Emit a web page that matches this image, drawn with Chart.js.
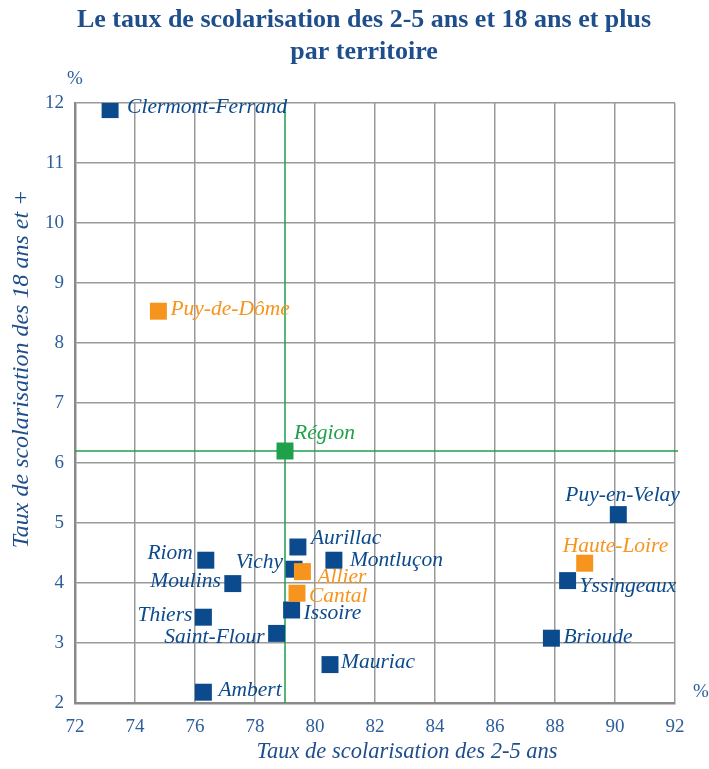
<!DOCTYPE html>
<html>
<head>
<meta charset="utf-8">
<script src="https://cdn.jsdelivr.net/npm/chart.js@4"></script>
<style>
    html, body { margin: 0; padding: 0; background: #ffffff; }
    #wrap { width: 709px; height: 769px; }
</style>
</head>
<body>
<div id="wrap"><canvas id="scolChart" width="709" height="769"></canvas></div>
<script>
// Départements (orange)
const deptNames = ['Puy-de-Dôme', 'Allier', 'Cantal', 'Haute-Loire'];
const deptX = [74.78, 79.58, 79.4, 88.99];
const deptY = [8.53, 4.19, 3.83, 4.33];

// Arrondissements (bleu)
const arrNames = ['Clermont-Ferrand', 'Riom', 'Moulins', 'Thiers', 'Saint-Flour', 'Ambert',
    'Vichy', 'Aurillac', 'Issoire', 'Mauriac', 'Montluçon', 'Puy-en-Velay', 'Yssingeaux', 'Brioude'];
const arrX = [73.17, 76.36, 77.26, 76.28, 78.72, 76.28, 79.3, 79.43, 79.22, 80.5, 80.63, 90.11, 88.42, 87.88];
const arrY = [11.89, 4.38, 3.99, 3.43, 3.16, 2.18, 4.23, 4.6, 3.55, 2.64, 4.38, 5.14, 4.04, 3.08];

// Région (vert)
const regionNames = ['Région'];
const regionX = [79.0];
const regionY = [6.2];

const xTicks = [72, 74, 76, 78, 80, 82, 84, 86, 88, 90, 92];
const yTicks = [2, 3, 4, 5, 6, 7, 8, 9, 10, 11, 12];

const titleLines = ['Le taux de scolarisation des 2-5 ans et 18 ans et plus', 'par territoire'];
const xTitle = 'Taux de scolarisation des 2-5 ans';
const yTitle = 'Taux de scolarisation des 18 ans et +';

const BLUE = '#0b4a8c';
const ORANGE = '#f7941d';
const GREEN = '#1ea14a';
const TEXT = '#1f4e8c';
const TICK = '#2c5d9c';
const SERIF = '"Liberation Serif", "DejaVu Serif", serif';

// label placement: [dx, dy, align] from the marker centre
const labelPlacement = {
    'Clermont-Ferrand': [17, -2, 'left'],
    'Puy-de-Dôme': [12, -2, 'left'],
    'Région': [9, -18, 'left'],
    'Riom': [-13, -7, 'right'],
    'Moulins': [-12, -2, 'right'],
    'Thiers': [-11, -2, 'right'],
    'Saint-Flour': [-12, 4, 'right'],
    'Ambert': [15, -2, 'left'],
    'Vichy': [-11, -7, 'right'],
    'Aurillac': [13, -9, 'left'],
    'Allier': [15, 6, 'left'],
    'Cantal': [12, 3, 'left'],
    'Issoire': [12, 3, 'left'],
    'Mauriac': [11, -2, 'left'],
    'Montluçon': [16, 0, 'left'],
    'Puy-en-Velay': [-53, -19, 'left'],
    'Haute-Loire': [-22, -17, 'left'],
    'Yssingeaux': [12, 6, 'left'],
    'Brioude': [12, -1, 'left']
};

function toPoints(xs, ys) {
    return xs.map((x, i) => ({ x: x, y: ys[i] }));
}

// Green reference lines through the regional value
const regionLines = {
    id: 'regionLines',
    beforeDatasetsDraw(chart) {
        const { ctx, chartArea, scales } = chart;
        const px = scales.x.getPixelForValue(regionX[0]);
        const py = scales.y.getPixelForValue(regionY[0]);
        ctx.save();
        ctx.strokeStyle = GREEN;
        ctx.lineWidth = 1.5;
        ctx.beginPath();
        ctx.moveTo(chartArea.left, py);
        ctx.lineTo(chartArea.right + 3, py);
        ctx.moveTo(px, chartArea.top);
        ctx.lineTo(px, chartArea.bottom);
        ctx.stroke();
        ctx.restore();
    }
};

// Point labels, titles and units
const decorations = {
    id: 'decorations',
    afterDatasetsDraw(chart) {
        const { ctx, chartArea } = chart;
        ctx.save();
        ctx.font = 'italic 21.5px ' + SERIF;
        ctx.textBaseline = 'middle';
        chart.data.datasets.forEach((ds, di) => {
            const meta = chart.getDatasetMeta(di);
            meta.data.forEach((el, i) => {
                const name = ds.names[i];
                const p = labelPlacement[name] || [12, 0, 'left'];
                ctx.fillStyle = ds.labelColor;
                ctx.textAlign = p[2];
                ctx.fillText(name, el.x + p[0], el.y + p[1]);
            });
        });

        // title
        ctx.fillStyle = TEXT;
        ctx.textAlign = 'center';
        ctx.font = 'bold 26px ' + SERIF;
        ctx.fillText(titleLines[0], 364, 20);
        ctx.fillText(titleLines[1], 364, 52);

        // axis titles
        ctx.font = 'italic 22.5px ' + SERIF;
        ctx.fillText(xTitle, 407, 752);
        ctx.save();
        ctx.translate(22, 369);
        ctx.rotate(-Math.PI / 2);
        ctx.font = 'italic 24px ' + SERIF;
        ctx.fillText(yTitle, 0, 0);
        ctx.restore();

        // units
        ctx.fillStyle = TICK;
        ctx.font = '19px ' + SERIF;
        ctx.fillText('%', chartArea.left, 79);
        ctx.fillText('%', 701, 692);
        ctx.restore();
    }
};

const ctx = document.getElementById('scolChart');

new Chart(ctx, {
    type: 'scatter',
    data: {
        datasets: [
            {
                names: deptNames,
                labelColor: ORANGE,
                data: toPoints(deptX, deptY),
                backgroundColor: ORANGE,
                borderWidth: 0,
                pointStyle: 'rect',
                pointRadius: 12,
                pointHoverRadius: 12
            },
            {
                names: arrNames,
                labelColor: BLUE,
                data: toPoints(arrX, arrY),
                backgroundColor: BLUE,
                borderWidth: 0,
                pointStyle: 'rect',
                pointRadius: 12,
                pointHoverRadius: 12
            },
            {
                names: regionNames,
                labelColor: GREEN,
                data: toPoints(regionX, regionY),
                backgroundColor: GREEN,
                borderWidth: 0,
                pointStyle: 'rect',
                pointRadius: 12,
                pointHoverRadius: 12
            }
        ]
    },
    options: {
        responsive: false,
        animation: false,
        layout: {
            padding: { left: 0, right: 34, top: 103, bottom: 0 }
        },
        plugins: {
            legend: { display: false },
            tooltip: { enabled: false }
        },
        scales: {
            x: {
                type: 'linear',
                min: 72,
                max: 92,
                afterBuildTicks: (scale) => { scale.ticks = xTicks.map(v => ({ value: v })); },
                afterFit: (scale) => { scale.height = 66; },
                ticks: {
                    color: TICK,
                    padding: 13,
                    font: { size: 19, family: SERIF }
                },
                grid: {
                    color: '#9a9a9a',
                    lineWidth: 1.5,
                    drawTicks: false
                },
                border: { color: '#8a8a8a', width: 2.5 }
            },
            y: {
                type: 'linear',
                min: 2,
                max: 12,
                afterBuildTicks: (scale) => { scale.ticks = yTicks.map(v => ({ value: v })); },
                afterFit: (scale) => { scale.width = 75; },
                ticks: {
                    color: TICK,
                    padding: 11,
                    font: { size: 19, family: SERIF }
                },
                grid: {
                    color: '#9a9a9a',
                    lineWidth: 1.5,
                    drawTicks: false
                },
                border: { color: '#8a8a8a', width: 2.5 }
            }
        }
    },
    plugins: [regionLines, decorations]
});
</script>
</body>
</html>
